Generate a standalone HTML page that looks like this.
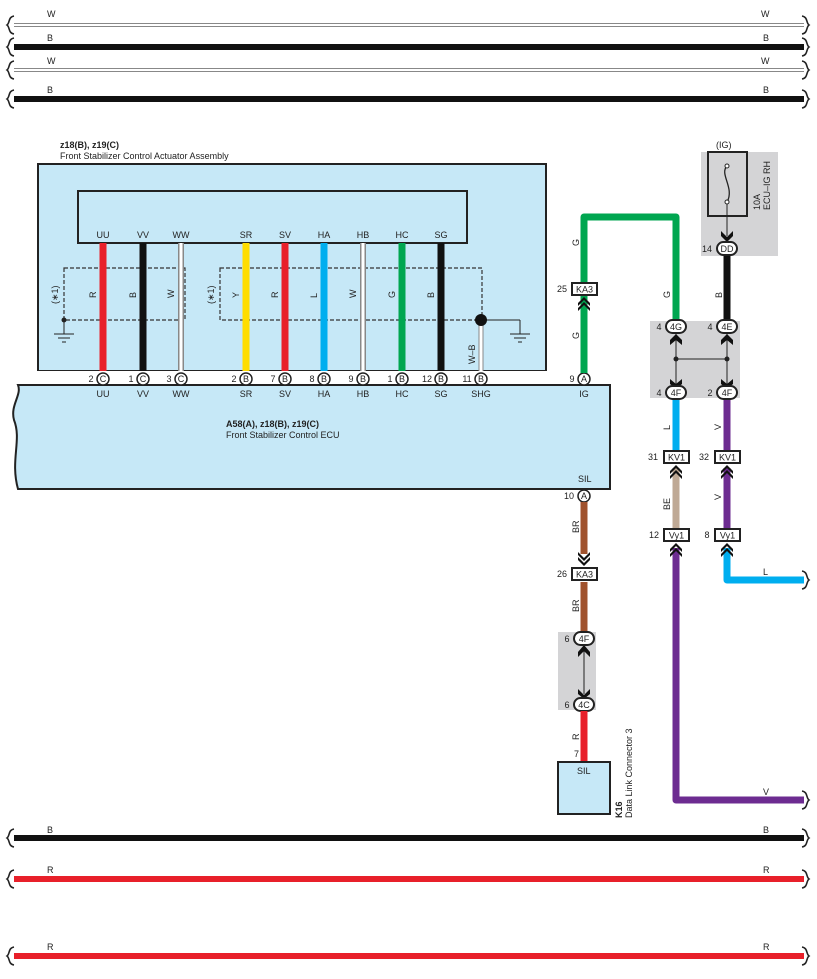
<!DOCTYPE html>
<html><head><meta charset="utf-8"><style>
body{margin:0;background:#fff}
svg{display:block;font-family:"Liberation Sans",Arial,sans-serif}
text{font-size:9px;fill:#222}
</style></head><body>
<svg width="817" height="979" viewBox="0 0 817 979" xmlns="http://www.w3.org/2000/svg">
<defs>
<g id="brL"><path d="M14,-9 C8,-8 10,-2 7,0 C10,2 8,8 14,9" fill="none" stroke="#222" stroke-width="1.6"/></g>
<g id="brR"><path d="M-2,-9 C4,-8 2,-2 5,0 C2,2 4,8 -2,9" fill="none" stroke="#222" stroke-width="1.6"/></g>
<g id="chevU"><path d="M-6,3 L0,-3 L6,3 L6,6 L0,0 L-6,6Z M-6,8 L0,2 L6,8 L6,11 L0,5 L-6,11Z" fill="#111"/></g>
<g id="chevD"><path d="M-6,-3 L0,3 L6,-3 L6,-6 L0,0 L-6,-6Z M-6,-8 L0,-2 L6,-8 L6,-11 L0,-5 L-6,-11Z" fill="#111"/></g>
</defs>
<g>
<line x1="14" y1="25" x2="804" y2="25" stroke="#888" stroke-width="4"/><line x1="14" y1="25" x2="804" y2="25" stroke="#fff" stroke-width="2"/>
<line x1="14" y1="47" x2="804" y2="47" stroke="#111" stroke-width="6"/>
<line x1="14" y1="70" x2="804" y2="70" stroke="#888" stroke-width="4"/><line x1="14" y1="70" x2="804" y2="70" stroke="#fff" stroke-width="2"/>
<line x1="14" y1="99" x2="804" y2="99" stroke="#111" stroke-width="6"/>
<line x1="14" y1="838" x2="804" y2="838" stroke="#111" stroke-width="6"/>
<line x1="14" y1="879" x2="804" y2="879" stroke="#e8202a" stroke-width="6"/>
<line x1="14" y1="956" x2="804" y2="956" stroke="#e8202a" stroke-width="6"/>
<use href="#brL" x="0" y="25"/><use href="#brL" x="0" y="47"/><use href="#brL" x="0" y="70"/><use href="#brL" x="0" y="99"/>
<use href="#brL" x="0" y="838"/><use href="#brL" x="0" y="879"/><use href="#brL" x="0" y="956"/>
<use href="#brR" x="804" y="25"/><use href="#brR" x="804" y="47"/><use href="#brR" x="804" y="70"/><use href="#brR" x="804" y="99"/>
<use href="#brR" x="804" y="838"/><use href="#brR" x="804" y="879"/><use href="#brR" x="804" y="956"/>
<text x="47" y="17">W</text><text x="761" y="17">W</text>
<text x="47" y="41">B</text><text x="763" y="41">B</text>
<text x="47" y="64">W</text><text x="761" y="64">W</text>
<text x="47" y="93">B</text><text x="763" y="93">B</text>
<text x="47" y="833">B</text><text x="763" y="833">B</text>
<text x="47" y="873">R</text><text x="763" y="873">R</text>
<text x="47" y="950">R</text><text x="763" y="950">R</text>
</g>
<text x="60" y="148" font-weight="bold">z18(B), z19(C)</text>
<text x="60" y="159">Front Stabilizer Control Actuator Assembly</text>
<rect x="38" y="164" width="508" height="207" fill="#c6e8f7" stroke="#222" stroke-width="2"/>
<rect x="78" y="191" width="389" height="52" fill="#c6e8f7" stroke="#222" stroke-width="2"/>
<g fill="none" stroke="#333" stroke-width="1.2" stroke-dasharray="4,2">
<rect x="64" y="268" width="121" height="52"/><rect x="220" y="268" width="262" height="52"/></g>
<circle cx="64" cy="320" r="2.5" fill="#222"/>
<line x1="64" y1="320" x2="64" y2="334" stroke="#222"/>
<path d="M54,334h20M58,338h12M62,342h4" stroke="#222"/>
<line x1="481" y1="320" x2="520" y2="320" stroke="#222"/><line x1="520" y1="320" x2="520" y2="334" stroke="#222"/>
<path d="M510,334h20M514,338h12M518,342h4" stroke="#222"/>
<line x1="481" y1="320" x2="481" y2="376" stroke="#888" stroke-width="5"/><line x1="481" y1="320" x2="481" y2="376" stroke="#fff" stroke-width="3"/>
<circle cx="481" cy="320" r="6" fill="#111"/>
<text transform="translate(475,364) rotate(-90)">W–B</text>
<line x1="103" y1="243" x2="103" y2="373" stroke="#e8202a" stroke-width="7"/>
<line x1="143" y1="243" x2="143" y2="373" stroke="#111" stroke-width="7"/>
<line x1="181" y1="243" x2="181" y2="373" stroke="#888" stroke-width="6"/><line x1="181" y1="243" x2="181" y2="373" stroke="#fff" stroke-width="3"/>
<line x1="246" y1="243" x2="246" y2="373" stroke="#ffdd00" stroke-width="7"/>
<line x1="285" y1="243" x2="285" y2="373" stroke="#e8202a" stroke-width="7"/>
<line x1="324" y1="243" x2="324" y2="373" stroke="#00aeef" stroke-width="7"/>
<line x1="363" y1="243" x2="363" y2="373" stroke="#888" stroke-width="6"/><line x1="363" y1="243" x2="363" y2="373" stroke="#fff" stroke-width="3"/>
<line x1="402" y1="243" x2="402" y2="373" stroke="#00a650" stroke-width="7"/>
<line x1="441" y1="243" x2="441" y2="373" stroke="#111" stroke-width="7"/>
<g text-anchor="middle">
<text x="103" y="238">UU</text><text x="143" y="238">VV</text><text x="181" y="238">WW</text><text x="246" y="238">SR</text><text x="285" y="238">SV</text><text x="324" y="238">HA</text><text x="363" y="238">HB</text><text x="402" y="238">HC</text><text x="441" y="238">SG</text>
</g>
<g>
<text transform="translate(96,298) rotate(-90)">R</text><text transform="translate(136,298) rotate(-90)">B</text><text transform="translate(174,298) rotate(-90)">W</text>
<text transform="translate(239,298) rotate(-90)">Y</text><text transform="translate(278,298) rotate(-90)">R</text><text transform="translate(317,298) rotate(-90)">L</text><text transform="translate(356,298) rotate(-90)">W</text><text transform="translate(395,298) rotate(-90)">G</text><text transform="translate(434,298) rotate(-90)">B</text>
<text transform="translate(58,304) rotate(-90)" font-size="8">(∗1)</text><text transform="translate(214,304) rotate(-90)" font-size="8">(∗1)</text>
</g>
<path d="M18,385 H610 V489 H18 C10,460 22,440 14,420 C10,405 22,395 18,385 Z" fill="#c6e8f7" stroke="#222" stroke-width="2"/>
<rect x="18" y="371" width="592" height="14" fill="#fff"/>
<line x1="18" y1="385" x2="610" y2="385" stroke="#222" stroke-width="2"/>
<text x="226" y="427" font-weight="bold">A58(A), z18(B), z19(C)</text>
<text x="226" y="438">Front Stabilizer Control ECU</text>
<text x="578" y="482">SIL</text>
<g text-anchor="middle">
<text x="103" y="397">UU</text><text x="143" y="397">VV</text><text x="181" y="397">WW</text><text x="246" y="397">SR</text><text x="285" y="397">SV</text><text x="324" y="397">HA</text><text x="363" y="397">HB</text><text x="402" y="397">HC</text><text x="441" y="397">SG</text><text x="481" y="397">SHG</text><text x="584" y="397">IG</text>
</g>
<g font-size="9" text-anchor="middle">
<g stroke="#222" stroke-width="1.5" fill="#fff">
<circle cx="103" cy="379" r="6"/><circle cx="143" cy="379" r="6"/><circle cx="181" cy="379" r="6"/><circle cx="246" cy="379" r="6"/><circle cx="285" cy="379" r="6"/><circle cx="324" cy="379" r="6"/><circle cx="363" cy="379" r="6"/><circle cx="402" cy="379" r="6"/><circle cx="441" cy="379" r="6"/><circle cx="481" cy="379" r="6"/><circle cx="584" cy="379" r="6"/><circle cx="584" cy="496" r="6"/>
</g>
<text x="103" y="382">C</text><text x="143" y="382">C</text><text x="181" y="382">C</text><text x="246" y="382">B</text><text x="285" y="382">B</text><text x="324" y="382">B</text><text x="363" y="382">B</text><text x="402" y="382">B</text><text x="441" y="382">B</text><text x="481" y="382">B</text><text x="584" y="382">A</text><text x="584" y="499">A</text>
<text x="91" y="382">2</text><text x="131" y="382">1</text><text x="169" y="382">3</text><text x="234" y="382">2</text><text x="273" y="382">7</text><text x="312" y="382">8</text><text x="351" y="382">9</text><text x="390" y="382">1</text><text x="427" y="382">12</text><text x="467" y="382">11</text><text x="572" y="382">9</text><text x="569" y="499">10</text>
</g>
<path d="M584,373 V217 H676 V321" fill="none" stroke="#00a650" stroke-width="7" stroke-linejoin="round"/>
<text transform="translate(579,246) rotate(-90)">G</text><text transform="translate(579,339) rotate(-90)">G</text><text transform="translate(670,298) rotate(-90)">G</text>
<rect x="701" y="152" width="77" height="104" fill="#d4d4d6"/>
<text x="716" y="148">(IG)</text>
<rect x="708" y="152" width="39" height="64" fill="none" stroke="#222" stroke-width="2"/>
<path d="M727,166 C719,174 735,188 727,202" fill="none" stroke="#222" stroke-width="1.3"/>
<circle cx="727" cy="166" r="2" fill="#fff" stroke="#222"/><circle cx="727" cy="202" r="2" fill="#fff" stroke="#222"/>
<line x1="727" y1="204" x2="727" y2="236" stroke="#222"/>
<path d="M721,231 L727,237 L733,231 L733,236 L727,242 L721,236Z" fill="#111"/>
<text transform="translate(760,210) rotate(-90)">10A</text><text transform="translate(770,210) rotate(-90)">ECU–IG RH</text>
<line x1="727" y1="254" x2="727" y2="321" stroke="#111" stroke-width="7"/>
<text transform="translate(722,298) rotate(-90)">B</text>
<rect x="650" y="321" width="90" height="77" fill="#d4d4d6"/>
<path d="M676,334 V386 M727,334 V386 M676,359 H727" stroke="#222" fill="none"/>
<circle cx="676" cy="359" r="2.5" fill="#222"/><circle cx="727" cy="359" r="2.5" fill="#222"/>
<path d="M670,340 L676,334 L682,340 L682,345 L676,340 L670,345Z" fill="#111"/>
<path d="M721,340 L727,334 L733,340 L733,345 L727,340 L721,345Z" fill="#111"/>
<path d="M670,379 L676,384 L682,379 L682,384 L676,389 L670,384Z" fill="#111"/>
<path d="M721,379 L727,384 L733,379 L733,384 L727,389 L721,384Z" fill="#111"/>
<line x1="676" y1="398" x2="676" y2="451" stroke="#00aeef" stroke-width="7"/>
<line x1="727" y1="398" x2="727" y2="451" stroke="#6d2c91" stroke-width="7"/>
<text transform="translate(670,430) rotate(-90)">L</text><text transform="translate(721,430) rotate(-90)">V</text>
<line x1="676" y1="468" x2="676" y2="529" stroke="#bfa995" stroke-width="7"/>
<line x1="727" y1="468" x2="727" y2="529" stroke="#6d2c91" stroke-width="7"/>
<text transform="translate(670,510) rotate(-90)">BE</text><text transform="translate(721,500) rotate(-90)">V</text>
<path d="M676,548 V800 H804" fill="none" stroke="#6d2c91" stroke-width="7" stroke-linejoin="round"/>
<path d="M727,548 V580 H804" fill="none" stroke="#00aeef" stroke-width="7" stroke-linejoin="round"/>
<use href="#brR" x="804" y="800"/><use href="#brR" x="804" y="580"/>
<text x="763" y="795">V</text><text x="763" y="575">L</text>
<g stroke="#222" stroke-width="2" fill="#fff">
<rect x="666" y="320" width="20" height="13" rx="6.5"/><rect x="717" y="320" width="20" height="13" rx="6.5"/>
<rect x="666" y="386" width="20" height="13" rx="6.5"/><rect x="717" y="386" width="20" height="13" rx="6.5"/>
<rect x="717" y="242" width="20" height="13" rx="6.5"/>
</g>
<g text-anchor="middle">
<text x="676" y="330">4G</text><text x="727" y="330">4E</text><text x="676" y="396">4F</text><text x="727" y="396">4F</text><text x="727" y="252">DD</text>
<text x="659" y="330">4</text><text x="710" y="330">4</text><text x="659" y="396">4</text><text x="710" y="396">2</text><text x="707" y="252">14</text>
</g>
<g stroke="#222" stroke-width="2" fill="#fff">
<rect x="572" y="283" width="25" height="12"/><rect x="664" y="451" width="25" height="12"/><rect x="715" y="451" width="25" height="12"/>
<rect x="664" y="529" width="25" height="12"/><rect x="715" y="529" width="25" height="12"/><rect x="572" y="568" width="25" height="12"/>
</g>
<g text-anchor="middle">
<text x="584.5" y="292.5">KA3</text><text x="676.5" y="460.5">KV1</text><text x="727.5" y="460.5">KV1</text><text x="676.5" y="538.5">Vy1</text><text x="727.5" y="538.5">Vy1</text><text x="584.5" y="577.5">KA3</text>
<text x="562" y="292">25</text><text x="653" y="460">31</text><text x="704" y="460">32</text><text x="654" y="538">12</text><text x="707" y="538">8</text><text x="562" y="577">26</text>
</g>
<use href="#chevU" x="584" y="300"/><use href="#chevU" x="676" y="468"/><use href="#chevU" x="727" y="468"/><use href="#chevU" x="676" y="546"/><use href="#chevU" x="727" y="546"/>
<line x1="584" y1="502" x2="584" y2="554" stroke="#a0522d" stroke-width="7"/>
<line x1="584" y1="582" x2="584" y2="632" stroke="#a0522d" stroke-width="7"/>
<use href="#chevD" x="584" y="563"/>
<text transform="translate(579,533) rotate(-90)">BR</text><text transform="translate(579,612) rotate(-90)">BR</text>
<rect x="558" y="632" width="38" height="78" fill="#d4d4d6"/>
<line x1="584" y1="650" x2="584" y2="694" stroke="#222"/>
<path d="M578,652 L584,645 L590,652 L590,657 L584,651 L578,657Z" fill="#111"/>
<path d="M578,689 L584,695 L590,689 L590,694 L584,699 L578,694Z" fill="#111"/>
<g stroke="#222" stroke-width="2" fill="#fff"><rect x="574" y="632" width="20" height="13" rx="6.5"/><rect x="574" y="698" width="20" height="13" rx="6.5"/></g>
<g text-anchor="middle"><text x="584" y="642">4F</text><text x="584" y="708">4C</text><text x="567" y="642">6</text><text x="567" y="708">6</text></g>
<line x1="584" y1="711" x2="584" y2="762" stroke="#e8202a" stroke-width="7"/>
<text transform="translate(579,740) rotate(-90)">R</text><text x="574" y="757">7</text>
<rect x="558" y="762" width="52" height="52" fill="#c6e8f7" stroke="#222" stroke-width="2"/>
<text x="577" y="774">SIL</text>
<text transform="translate(622,818) rotate(-90)" font-weight="bold">K16</text>
<text transform="translate(632,818) rotate(-90)">Data Link Connector 3</text>
</svg>
</body></html>
